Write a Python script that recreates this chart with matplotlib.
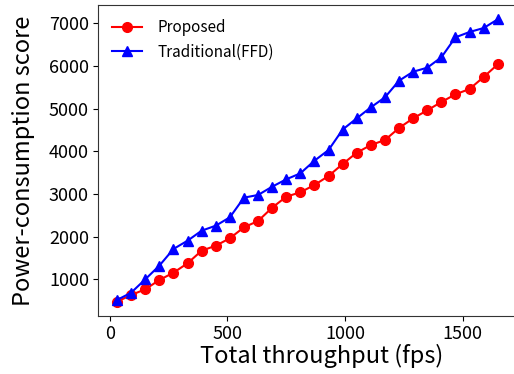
import matplotlib
matplotlib.use("Agg")
import matplotlib.pyplot as plt

plt.rcParams['font.family'] = ['Noto Sans CJK JP', 'DejaVu Sans']

throughput = [30 + 60 * i for i in range(28)]
proposed = [476, 633, 766, 984, 1155, 1376, 1671, 1788, 1962, 2219, 2367, 2679,
            2937, 3040, 3211, 3422, 3703, 3968, 4148, 4265, 4547, 4774, 4961,
            5156, 5336, 5461, 5742, 6039]
traditional = [516, 687, 1000, 1320, 1711, 1905, 2140, 2257, 2453, 2914, 2977,
               3171, 3344, 3484, 3780, 4031, 4510, 4774, 5031, 5266, 5656, 5866,
               5960, 6203, 6672, 6797, 6890, 7094]
labels = ["Proposed", "Traditional(FFD)"]
xticks = [0, 500, 1000, 1500]
yticks = [1000, 2000, 3000, 4000, 5000, 6000, 7000]

fig = plt.figure(figsize=(5.14, 3.74), dpi=100)
ax = fig.add_axes([98/514, 1 - 315.8/374, (516.8 - 98)/514, (315.8 - 5.2)/374])
ax.plot(throughput, proposed, color='red', marker='o', markersize=7, linewidth=1.5, label=labels[0])
ax.plot(throughput, traditional, color='blue', marker='^', markersize=7, linewidth=1.5, label=labels[1])
ax.set_xticks(xticks)
ax.set_yticks(yticks)
ax.tick_params(labelsize=13, pad=3)
for s in ax.spines.values():
    s.set_color('#333333')
ax.set_xlabel("Total throughput (fps)", fontsize=17, labelpad=1)
ax.xaxis.label.set_x(0.535)
ax.set_ylabel("Power-consumption score", fontsize=17, labelpad=10)
ax.legend(loc='upper left', frameon=False, fontsize=11, handletextpad=1.0)
fig.savefig("out.png", dpi=100)
